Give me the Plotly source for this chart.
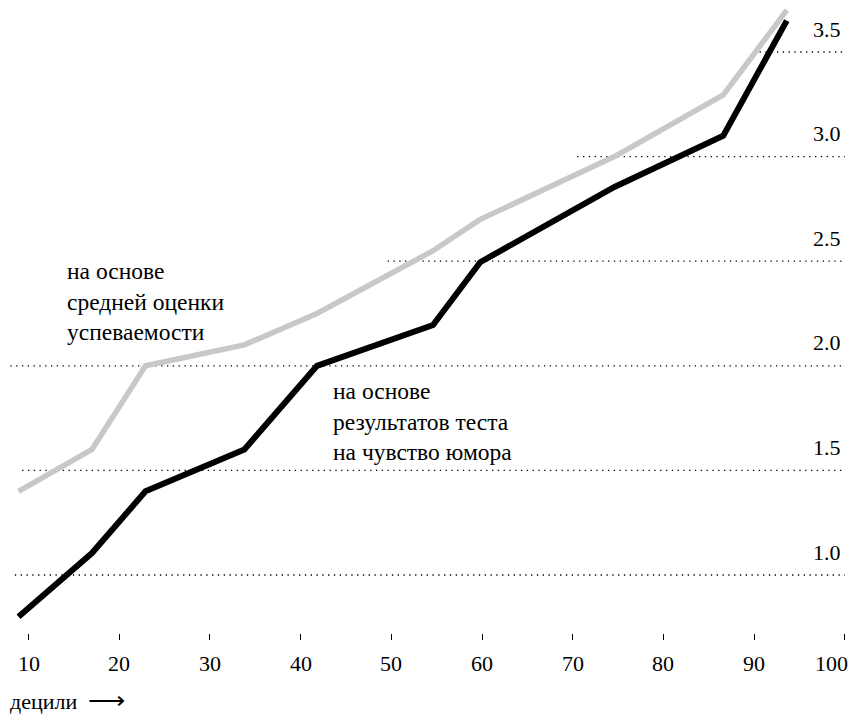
import plotly.graph_objects as go

# Data
deciles = [8.9, 17.0, 22.9, 33.8, 41.8, 54.6, 59.8, 74.6, 86.6, 93.6]
gpa_based = [1.40, 1.60, 2.00, 2.10, 2.25, 2.55, 2.70, 3.00, 3.295, 3.70]
humor_based = [0.80, 1.105, 1.40, 1.60, 2.00, 2.195, 2.495, 2.855, 3.10, 3.65]

x_ticks = [10, 20, 30, 40, 50, 60, 70, 80, 90, 100]
x_tick_labels = ["10", "20", "30", "40", "50", "60", "70", "80", "90", "100"]

y_levels = [1.0, 1.5, 2.0, 2.5, 3.0, 3.5]
y_level_labels = ["1.0", "1.5", "2.0", "2.5", "3.0", "3.5"]
grid_start = [8.5, 9.3, 8.0, 49.6, 70.5, 90.6]

FONT = "Liberation Serif"

fig = go.Figure()
fig.add_trace(go.Scatter(x=deciles, y=gpa_based, mode="lines",
                         line=dict(color="#c8c8c8", width=5.5),
                         cliponaxis=False, hoverinfo="skip"))
fig.add_trace(go.Scatter(x=deciles, y=humor_based, mode="lines",
                         line=dict(color="#000000", width=6),
                         cliponaxis=False, hoverinfo="skip"))

shapes = []
annotations = []
for lvl, lab, xs in zip(y_levels, y_level_labels, grid_start):
    shapes.append(dict(type="line", xref="x", yref="y", x0=xs, x1=100, y0=lvl, y1=lvl,
                       line=dict(color="black", width=1.3, dash="1.3px,4.5px"), layer="below"))
    annotations.append(dict(x=99.8, y=lvl, xref="x", yref="y", text=lab, showarrow=False,
                            xanchor="right", yanchor="middle", yshift=23,
                            font=dict(family=FONT, size=22, color="black")))

for i, (tv, tl) in enumerate(zip(x_ticks, x_tick_labels)):
    last = i == len(x_ticks) - 1
    annotations.append(dict(x=tv, y=-0.048, xref="x", yref="paper", text=tl,
                            showarrow=False, xanchor="center", yanchor="middle",
                            xshift=-13 if last else 0,
                            font=dict(family=FONT, size=22, color="black")))

annotations.append(dict(x=14.0, y=2.307, xref="x", yref="y",
                        text="на основе<br>средней оценки<br>успеваемости",
                        showarrow=False, xanchor="left", yanchor="middle", align="left",
                        font=dict(family=FONT, size=23.5, color="black")))
annotations.append(dict(x=43.4, y=1.734, xref="x", yref="y",
                        text="на основе<br>результатов теста<br>на чувство юмора",
                        showarrow=False, xanchor="left", yanchor="middle", align="left",
                        font=dict(family=FONT, size=23.5, color="black")))
annotations.append(dict(x=0.0, y=-0.108, xref="paper", yref="paper",
                        text="децили  <span style='font-size:26px'>⟶</span>",
                        showarrow=False, xanchor="left", yanchor="middle",
                        font=dict(family=FONT, size=22, color="black")))

fig.update_layout(
    width=841, height=711,
    margin=dict(l=0, r=0, t=0, b=86),
    paper_bgcolor="white", plot_bgcolor="white",
    showlegend=False,
    shapes=shapes, annotations=annotations,
    xaxis=dict(range=[7.740, 100.46], tickvals=x_ticks, showticklabels=False,
               showgrid=False, zeroline=False, showline=False,
               ticks="outside", ticklen=6, tickwidth=1, tickcolor="black"),
    yaxis=dict(range=[0.7228, 3.7103], showgrid=False, zeroline=False,
               showline=False, showticklabels=False, ticks=""),
)

fig.write_html("out.html")
